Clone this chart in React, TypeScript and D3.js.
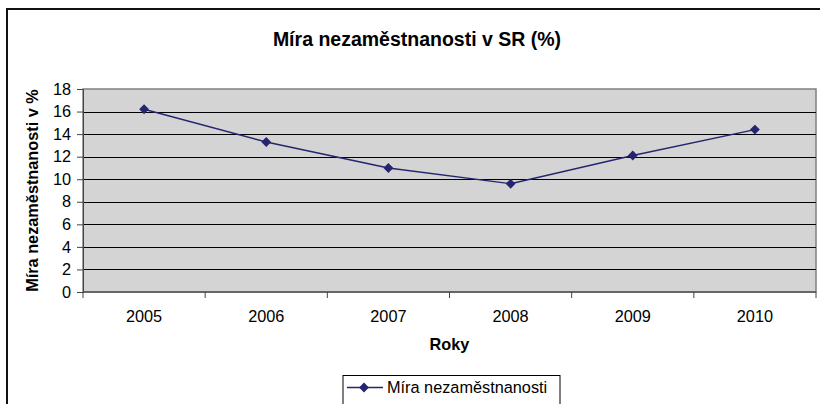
import React, { useRef, useEffect } from 'react'
import * as d3 from 'd3'

const years = ['2005', '2006', '2007', '2008', '2009', '2010']
const rates = [16.2, 13.3, 11.0, 9.6, 12.1, 14.4]
const yTicks = [0, 2, 4, 6, 8, 10, 12, 14, 16, 18]

const title = 'Míra nezaměstnanosti v SR (%)'
const yTitle = 'Míra nezaměstnanosti v %'
const xTitle = 'Roky'
const seriesName = 'Míra nezaměstnanosti'

const W = 820
const H = 404
const FONT = '"Liberation Sans", Arial, sans-serif'
const LINE = '#25256f'
const FS = 16.3

function App() {
  const ref = useRef<SVGSVGElement>(null)

  useEffect(() => {
    const plot = { left: 83, right: 816, top: 89, bottom: 292 }

    const x = d3.scaleBand().domain(years).range([plot.left, plot.right])
    const y = d3.scaleLinear().domain([0, 18]).range([plot.bottom, plot.top])

    const svg = d3.select(ref.current)
    svg.selectAll('*').remove()

    // outer chart frame (runs off the right and bottom edge)
    svg.append('rect')
      .attr('x', 7).attr('y', 9)
      .attr('width', 840).attr('height', 420)
      .attr('fill', '#fff')
      .attr('stroke', '#111').attr('stroke-width', 2)

    svg.append('text')
      .attr('x', 417).attr('y', 46)
      .attr('text-anchor', 'middle')
      .style('font', `bold 19.5px ${FONT}`)
      .text(title)

    svg.append('rect')
      .attr('x', plot.left).attr('y', plot.top)
      .attr('width', plot.right - plot.left).attr('height', plot.bottom - plot.top)
      .attr('fill', '#d4d4d4')
      .attr('stroke', '#808080').attr('stroke-width', 1.5)

    // gridlines
    svg.append('g').selectAll('line')
      .data(yTicks.filter(d => d > 0 && d < 18))
      .enter().append('line')
      .attr('x1', plot.left).attr('x2', plot.right)
      .attr('y1', d => Math.round(y(d)) + 0.5).attr('y2', d => Math.round(y(d)) + 0.5)
      .attr('stroke', '#000').attr('stroke-width', 1)

    // y axis
    const yAxis = svg.append('g')
      .attr('transform', `translate(${plot.left},0)`)
      .call(d3.axisLeft(y).tickValues(yTicks).tickSize(6).tickPadding(6).tickSizeOuter(0))
    yAxis.select('.domain').attr('stroke', '#444')
    yAxis.selectAll('line').attr('stroke', '#444')
    yAxis.selectAll('text').style('font', `${FS}px ${FONT}`).attr('fill', '#000')

    // x axis with ticks on category boundaries
    const xAxis = svg.append('g')
      .attr('transform', `translate(0,${plot.bottom})`)
    xAxis.append('line')
      .attr('x1', plot.left).attr('x2', plot.right)
      .attr('stroke', '#555').attr('stroke-width', 1.5)
    const bounds = years.map(d => x(d) as number).concat([plot.right])
    xAxis.selectAll('line.tick')
      .data(bounds)
      .enter().append('line')
      .attr('class', 'tick')
      .attr('x1', d => d).attr('x2', d => d)
      .attr('y1', 0).attr('y2', 6)
      .attr('stroke', '#444')
    xAxis.selectAll('text')
      .data(years)
      .enter().append('text')
      .attr('x', d => (x(d) as number) + x.bandwidth() / 2)
      .attr('y', 29.5)
      .attr('text-anchor', 'middle')
      .style('font', `${FS}px ${FONT}`)
      .text(d => d)

    svg.append('text')
      .attr('x', (plot.left + plot.right) / 2).attr('y', 350)
      .attr('text-anchor', 'middle')
      .style('font', `bold ${FS}px ${FONT}`)
      .text(xTitle)

    svg.append('text')
      .attr('transform', `translate(38,${(plot.top + plot.bottom) / 2}) rotate(-90)`)
      .attr('text-anchor', 'middle')
      .style('font', `bold ${FS}px ${FONT}`)
      .text(yTitle)

    // series
    const cx = (d: string) => (x(d) as number) + x.bandwidth() / 2
    const path = d3.line<number>()
      .x((d, i) => cx(years[i]))
      .y(d => y(d))
    svg.append('path')
      .datum(rates)
      .attr('d', path)
      .attr('fill', 'none')
      .attr('stroke', LINE)
      .attr('stroke-width', 1.4)

    const diamond = d3.symbol().type(d3.symbolDiamond2).size(62)
    svg.append('g').selectAll('path')
      .data(rates)
      .enter().append('path')
      .attr('d', diamond)
      .attr('transform', (d, i) => `translate(${cx(years[i])},${y(d)})`)
      .attr('fill', LINE)

    // legend
    const lg = svg.append('g').attr('transform', 'translate(343,375.5)')
    lg.append('rect')
      .attr('width', 217).attr('height', 40)
      .attr('fill', '#fff').attr('stroke', '#000').attr('stroke-width', 1)
    lg.append('line')
      .attr('x1', 4).attr('x2', 40).attr('y1', 12).attr('y2', 12)
      .attr('stroke', LINE).attr('stroke-width', 1.4)
    lg.append('path')
      .attr('d', diamond)
      .attr('transform', 'translate(21,12)')
      .attr('fill', LINE)
    lg.append('text')
      .attr('x', 44).attr('y', 17.5)
      .style('font', `${FS}px ${FONT}`)
      .text(seriesName)
  }, [])

  return (
    <svg ref={ref} width={W} height={H}
      style={{ position: 'absolute', left: 0, top: 0, background: '#fff' }} />
  )
}

export default App
